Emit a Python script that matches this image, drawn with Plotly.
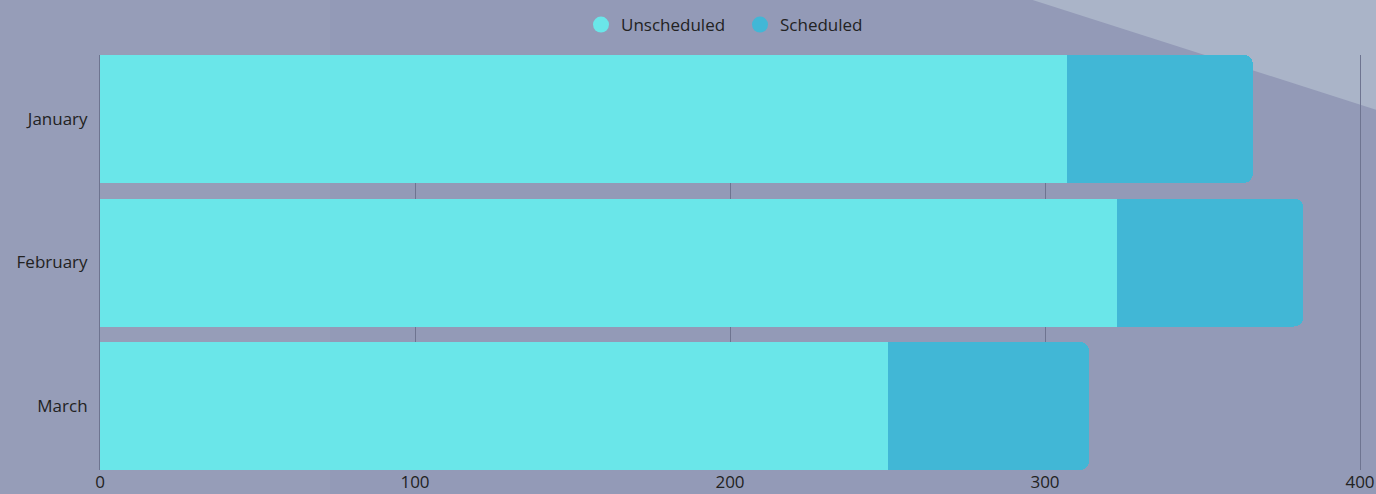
import plotly.graph_objects as go

months = ["January", "February", "March"]
unscheduled = [307, 323, 250]
scheduled = [59, 59, 64]
x_ticks = [0, 100, 200, 300, 400]

c_unsched = "#6ae6e9"
c_sched = "#41b7d6"

fig = go.Figure()
fig.add_trace(go.Bar(y=months, x=unscheduled, orientation="h", name="Unscheduled",
                     marker=dict(color=c_unsched, line=dict(width=0)), showlegend=False))
fig.add_trace(go.Bar(y=months, x=scheduled, orientation="h", name="Scheduled",
                     marker=dict(color=c_sched, line=dict(width=0)), showlegend=False))
# legend entries with circular markers
fig.add_trace(go.Scatter(x=[None], y=[None], mode="markers", name="Unscheduled",
                         marker=dict(symbol="circle", size=16, color=c_unsched)))
fig.add_trace(go.Scatter(x=[None], y=[None], mode="markers", name="Scheduled",
                         marker=dict(symbol="circle", size=16, color=c_sched)))

# background decoration: lighter diagonal area top right
L, R, T, B = 100, 16, 55, 24
W, H = 1376, 494
pw, ph = W - L - R, H - T - B
def px(x): return (x - L) / pw
def py(y): return (H - B - y) / ph

shapes = [
    dict(type="rect", xref="paper", yref="paper", x0=px(-5), x1=px(330), y0=py(500), y1=py(-5),
         fillcolor="rgba(175,178,195,0.12)", line=dict(width=0), layer="below"),
    dict(type="path", xref="paper", yref="paper",
         path=f"M {px(1017)} {py(-5)} L {px(1380)} {py(-5)} L {px(1380)} {py(111)} Z",
         fillcolor="#aab4c8", line=dict(width=0), layer="below"),
]

fig.update_layout(
    width=W, height=H,
    barmode="stack", bargap=0.108, barcornerradius=9,
    paper_bgcolor="#939ab7", plot_bgcolor="rgba(0,0,0,0)",
    margin=dict(l=L, r=R, t=T, b=B, autoexpand=False),
    font=dict(family="Open Sans", size=17, color="#222222"),
    shapes=shapes,
    legend=dict(orientation="h", x=px(740), xanchor="center", y=py(25), yanchor="middle",
                font=dict(size=17, color="#222222"), bgcolor="rgba(0,0,0,0)",
                traceorder="normal", itemwidth=30, entrywidth=114, entrywidthmode="pixels"),
    xaxis=dict(range=[0, 400], tickvals=x_ticks, ticktext=[str(v) for v in x_ticks],
               showgrid=True, gridcolor="#6e7490", gridwidth=1, zeroline=False,
               showline=False, ticks="", tickfont=dict(size=17), automargin=False,
               ticklabelstandoff=0, layer="below traces"),
    yaxis=dict(categoryorder="array", categoryarray=months, autorange=False,
               range=[2.446, -0.446], showgrid=False, zeroline=False,
               showline=True, mirror=True, linecolor="#6e7490", linewidth=1,
               layer="below traces",
               ticks="", ticklabelstandoff=8, tickfont=dict(size=17), automargin=False),
)

fig.write_html("out.html", config={"displayModeBar": False},
               post_script="document.body.style.margin='0';document.body.style.overflow='hidden';")
